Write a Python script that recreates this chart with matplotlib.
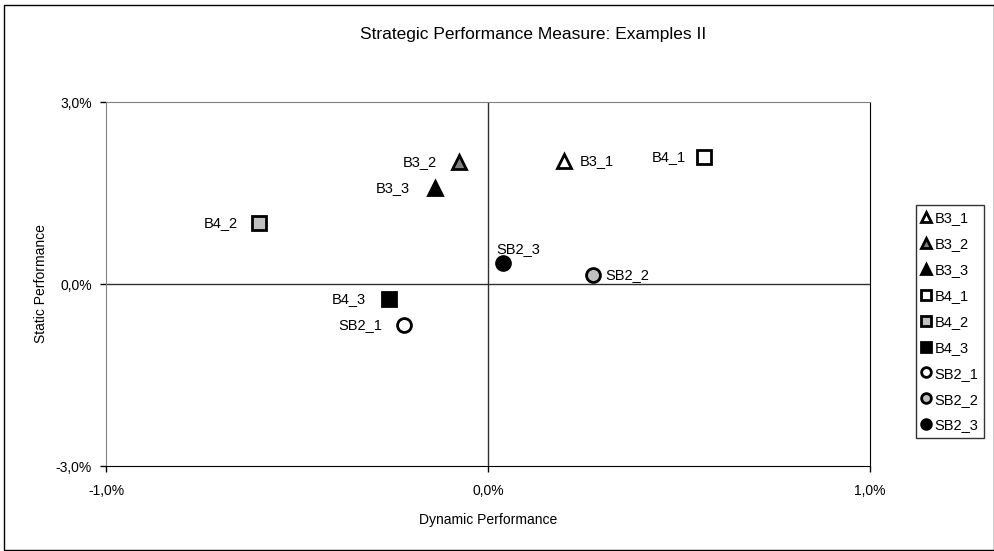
import matplotlib.pyplot as plt
from matplotlib.patches import Rectangle
from matplotlib.ticker import FuncFormatter

plt.rcParams['font.family'] = ['Liberation Sans', 'DejaVu Sans']

# data (percent)
names = ['B3_1', 'B3_2', 'B3_3', 'B4_1', 'B4_2', 'B4_3', 'SB2_1', 'SB2_2', 'SB2_3']
dynamic = [0.199, -0.076, -0.139, 0.565, -0.600, -0.259, -0.220, 0.275, 0.039]
static = [2.03, 2.01, 1.58, 2.09, 1.01, -0.25, -0.68, 0.15, 0.35]
markers = ['^', '^', '^', 's', 's', 's', 'o', 'o', 'o']
fills = ['white', '#808080', 'black', 'white', '#c0c0c0', 'black', 'white', '#c0c0c0', 'black']
# label offsets in pixels (dx, dy) and alignment
offsets = [(16, 0, 'left'), (-22, 0, 'right'), (-25, 0, 'right'),
           (-18, 0, 'right'), (-21, 0, 'right'), (-23, 0, 'right'),
           (-22, 0, 'right'), (12, 0, 'left'), (15, 14, 'center')]

fig = plt.figure(figsize=(9.95, 5.51), dpi=100)
ax = fig.add_axes([106 / 995, 1 - 466 / 551, 764 / 995, 364 / 551])

for i in range(len(names)):
    ax.plot(dynamic[i], static[i], linestyle='none', marker=markers[i],
            markersize=10, markerfacecolor=fills[i], markeredgecolor='black',
            markeredgewidth=2, label=names[i], zorder=3)
    dx, dy, ha = offsets[i]
    ax.annotate(names[i], (dynamic[i], static[i]), xytext=(dx * 0.72, dy * 0.72),
                textcoords='offset points', ha=ha, va='center', fontsize=10.5)

ax.axhline(0, color='#303030', lw=1, zorder=1)
ax.axvline(0, color='#303030', lw=1, zorder=1)

ax.set_xlim(-1, 1)
ax.set_ylim(-3, 3)
ax.set_xticks([-1, 0, 1])
ax.set_yticks([-3, 0, 3])
fmt = FuncFormatter(lambda v, p: ('%.1f%%' % v).replace('.', ','))
ax.xaxis.set_major_formatter(fmt)
ax.yaxis.set_major_formatter(fmt)
ax.tick_params(direction='out', length=4, width=1, labelsize=10)
ax.tick_params(axis='x', pad=9)
ax.tick_params(axis='y', pad=6)

for s in ['top', 'left']:
    ax.spines[s].set_color('#808080')
for s in ['right', 'bottom']:
    ax.spines[s].set_color('black')

ax.set_xlabel('Dynamic Performance', fontsize=10, labelpad=11)
ax.set_ylabel('Static Performance', fontsize=10, labelpad=6)
fig.text(533 / 995, 1 - 35 / 551, 'Strategic Performance Measure: Examples II',
         ha='center', va='center', fontsize=12.5)

leg = fig.legend(loc='upper left', bbox_to_anchor=(916 / 995, 1 - 205 / 551),
                 frameon=True, fancybox=False, fontsize=10.5, handletextpad=0.28,
                 handlelength=0.6, borderpad=0.4, labelspacing=0.82, markerscale=0.7,
                 borderaxespad=0)
leg.get_frame().set_edgecolor('black')
leg.get_frame().set_linewidth(1)

fig.patches.append(Rectangle((4 / 995, 1 / 551), 990 / 995, 545 / 551,
                             transform=fig.transFigure, fill=False,
                             edgecolor='black', lw=1))

fig.savefig('out.png', dpi=100)
